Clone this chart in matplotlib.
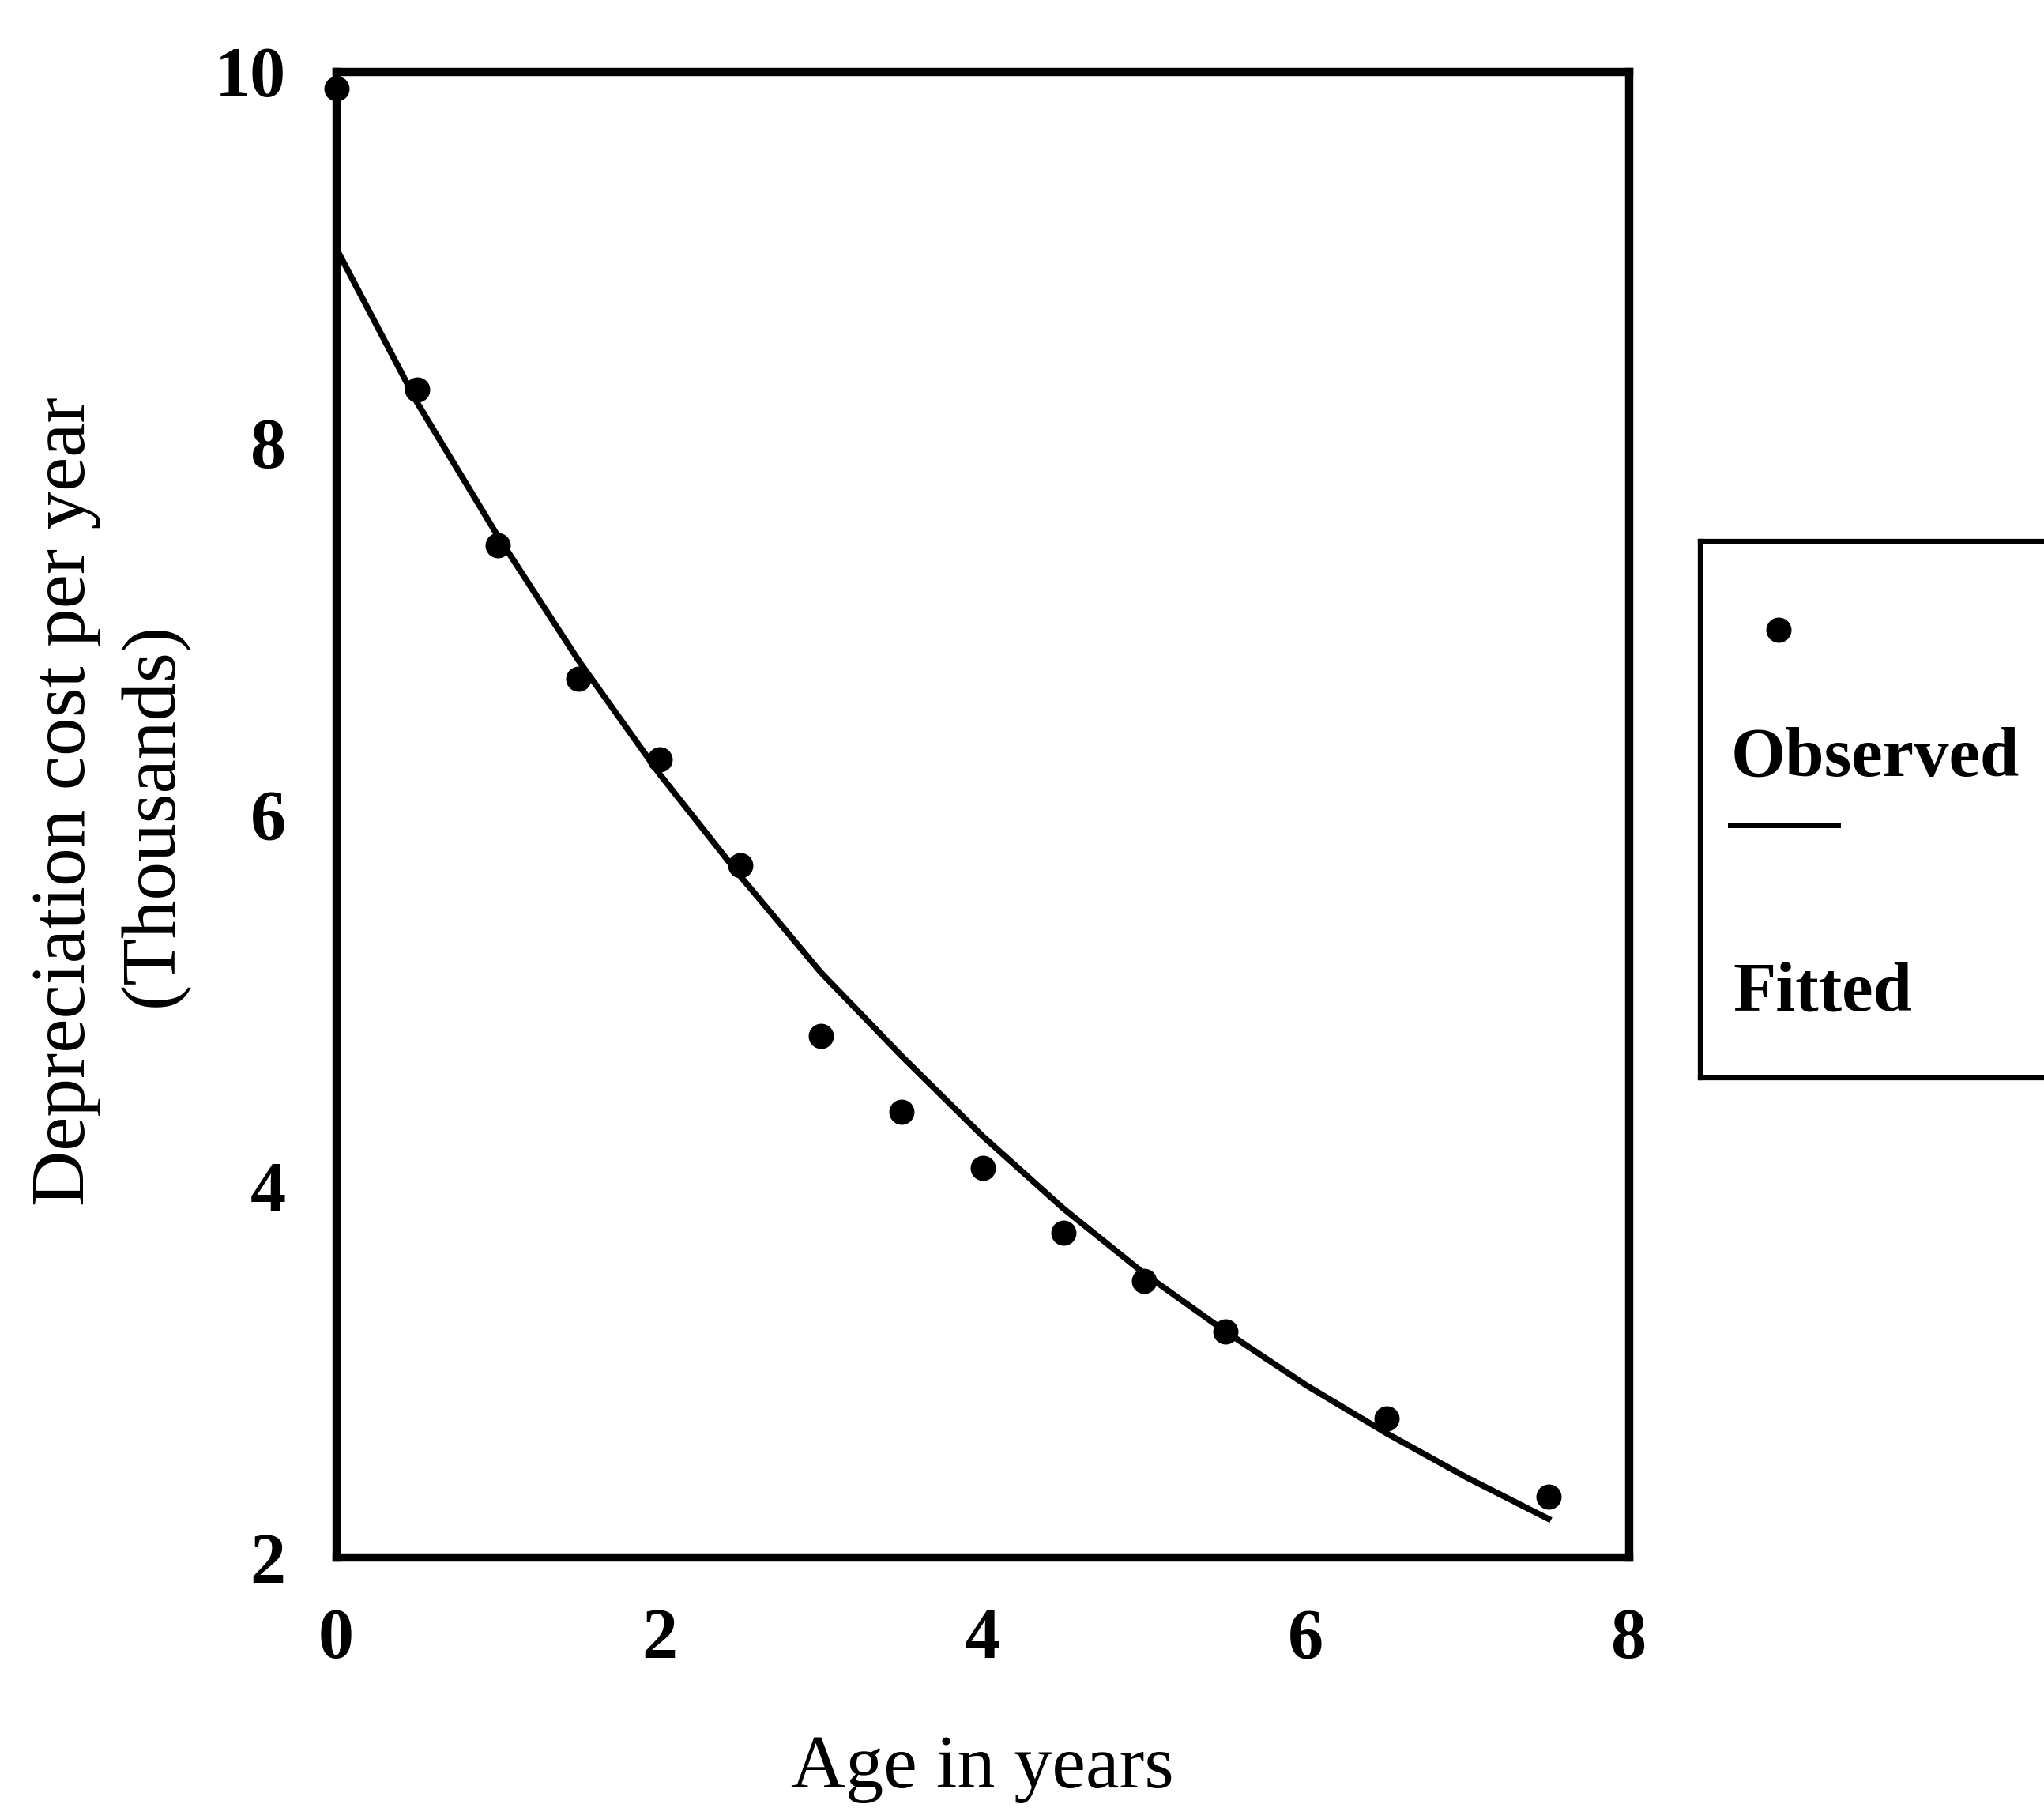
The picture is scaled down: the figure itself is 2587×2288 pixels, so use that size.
import numpy as np
import matplotlib
matplotlib.use("Agg")
import matplotlib.pyplot as plt

plt.rcParams['font.family'] = ['Liberation Serif', 'DejaVu Serif']

# observed depreciation cost (thousands) by age
age_obs = [0, 0.5, 1, 1.5, 2, 2.5, 3, 3.5, 4, 4.5, 5, 5.5, 6.5, 7.5]
cost_obs = [9.91, 8.29, 7.45, 6.73, 6.30, 5.73, 4.81, 4.40, 4.10, 3.75, 3.49, 3.22, 2.75, 2.33]

# fitted curve
age_fit = [0, 0.5, 1, 1.5, 2, 2.5, 3, 3.5, 4, 4.5, 5, 5.5, 6, 6.5, 7, 7.5]
cost_fit = [9.05, 8.22, 7.50, 6.83, 6.22, 5.67, 5.15, 4.70, 4.27, 3.88, 3.53, 3.22, 2.93, 2.67, 2.43, 2.21]

xticks = [0, 2, 4, 6, 8]
yticks = [2, 4, 6, 8, 10]

fig = plt.figure(figsize=(25.87, 22.88), dpi=100)
ax = fig.add_axes([0.1645, 0.1384, 0.6325, 0.8219])

ax.plot(age_fit, cost_fit, color='black', lw=5.5, solid_joinstyle='miter')
ax.plot(age_obs, cost_obs, 'o', color='black', ms=22, clip_on=False, zorder=3)

ax.set_xlim(0, 8)
ax.set_ylim(2, 10)
ax.set_xticks(xticks)
ax.set_yticks(yticks)
ax.tick_params(length=0, labelsize=65)
ax.tick_params(axis='x', pad=46)
ax.tick_params(axis='y', pad=46)
for lbl in ax.get_xticklabels() + ax.get_yticklabels():
    lbl.set_fontweight('bold')
for s in ax.spines.values():
    s.set_linewidth(7.5)

ax.set_xlabel('Age in years', fontsize=69)
ax.xaxis.set_label_coords(0.5, -0.119)

# y label as two separate lines, placed by their baselines
ax.text(-0.1947, 0.509, 'Depreciation cost per year', transform=ax.transAxes,
        rotation=90, rotation_mode='anchor', ha='center', va='baseline', fontsize=70)
ax.text(-0.1269, 0.5, '(Thousands)', transform=ax.transAxes,
        rotation=90, rotation_mode='anchor', ha='center', va='baseline', fontsize=70)

# legend box, runs off the right edge
lax = fig.add_axes([0.832, 0.4037, 0.252, 0.297])
lax.set_xlim(0, 1)
lax.set_ylim(0, 1)
lax.set_xticks([])
lax.set_yticks([])
lax.spines['right'].set_visible(False)
for s in ['left', 'top', 'bottom']:
    lax.spines[s].set_linewidth(4.5)
lax.plot([0.152], [0.835], 'o', color='black', ms=22)
lax.plot([0.058, 0.266], [0.471, 0.471], color='black', lw=5)
lax.text(0.058, 0.595, 'Observed', fontsize=64, fontweight='bold', va='center', ha='left')
lax.text(0.063, 0.158, 'Fitted', fontsize=64, fontweight='bold', va='center', ha='left')

fig.savefig('out.png', dpi=100, facecolor='white')
